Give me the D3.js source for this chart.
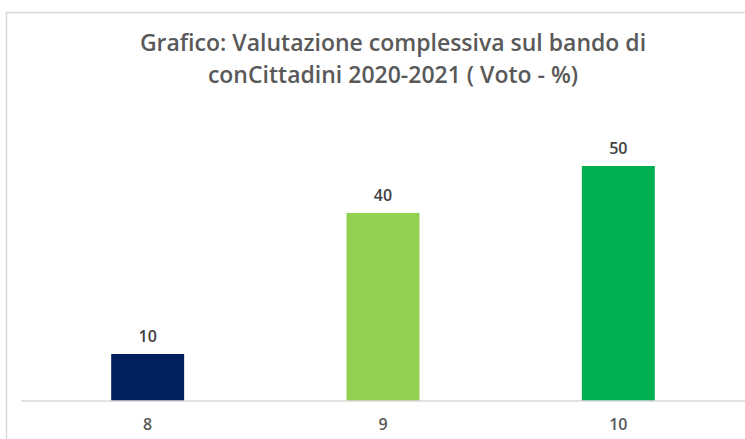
<!DOCTYPE html>
<html>
<head>
<meta charset="utf-8">
<script src="https://cdn.jsdelivr.net/npm/d3@7"></script>
<style>
  body { margin: 0; background: #fff; }
  text { font-family: "Open Sans", "Liberation Sans", sans-serif; }
</style>
</head>
<body>
<script>
// dati del grafico
var voti = ["8", "9", "10"];
var percentuali = [10, 40, 50];
var colori = ["#002060", "#92D050", "#00B050"];
var titolo = ["Grafico: Valutazione complessiva sul bando di", "conCittadini 2020-2021 ( Voto - %)"];

var width = 745, height = 439;
var baseY = 401;

var svg = d3.select("body").append("svg")
    .attr("width", width)
    .attr("height", height);

// cornice
svg.append("rect")
    .attr("x", 6.5).attr("y", 12.5)
    .attr("width", width + 10).attr("height", height + 10)
    .attr("fill", "#fff")
    .attr("stroke", "#d9d9d9")
    .attr("stroke-width", 1.5);

// titolo
svg.append("g").selectAll("text")
    .data(titolo)
    .join("text")
    .attr("x", 393)
    .attr("y", function(d, i){ return 51 + i * 32; })
    .attr("text-anchor", "middle")
    .attr("font-size", 23)
    .attr("font-weight", 600)
    .attr("fill", "#595959")
    .text(function(d){ return d; });

var x = d3.scaleBand().domain(voti).range([30, 736]).paddingInner(0.69).paddingOuter(0.345);
var y = d3.scaleLinear().domain([0, 60]).range([baseY, 119]);

var dati = voti.map(function(v, i){ return {voto: v, val: percentuali[i], col: colori[i]}; });

svg.append("g").selectAll("rect")
    .data(dati)
    .join("rect")
    .attr("x", function(d){ return x(d.voto); })
    .attr("y", function(d){ return y(d.val); })
    .attr("width", x.bandwidth())
    .attr("height", function(d){ return baseY - y(d.val); })
    .attr("fill", function(d){ return d.col; });

// etichette valori
svg.append("g").selectAll("text")
    .data(dati)
    .join("text")
    .attr("x", function(d){ return x(d.voto) + x.bandwidth() / 2; })
    .attr("y", function(d){ return y(d.val) - 12; })
    .attr("text-anchor", "middle")
    .attr("font-size", 16)
    .attr("font-weight", 600)
    .attr("fill", "#404040")
    .text(function(d){ return d.val; });

// asse x
var xAxis = d3.axisBottom(x).tickSize(0).tickPadding(18);
var gx = svg.append("g")
    .attr("transform", "translate(0," + baseY + ")")
    .call(xAxis);
gx.select(".domain").attr("stroke", "#d9d9d9").attr("stroke-width", 1.5).attr("d", "M21,0H745");
gx.selectAll("text")
    .attr("font-size", 16)
    .attr("font-weight", 600)
    .attr("fill", "#595959")
    .attr("font-family", "Open Sans, sans-serif");
</script>
</body>
</html>
